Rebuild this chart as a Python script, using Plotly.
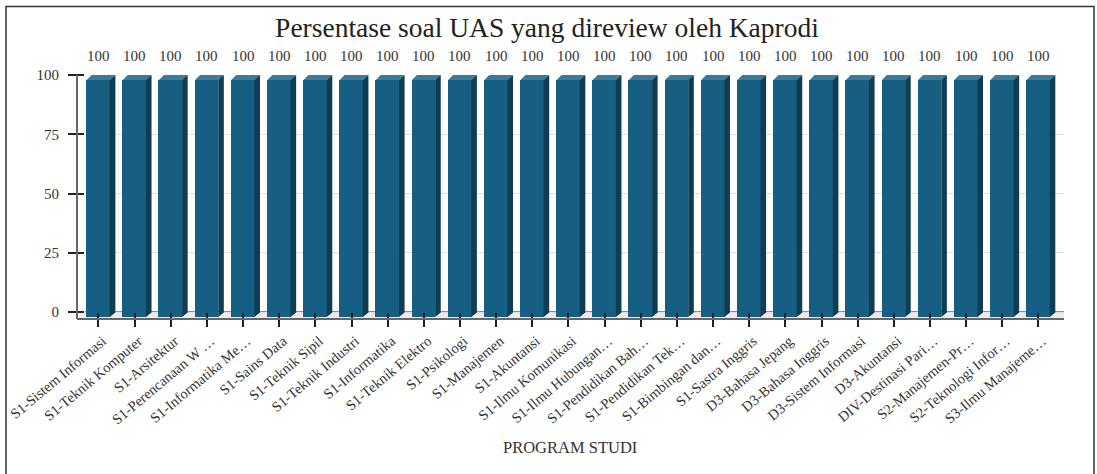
import plotly.graph_objects as go

categories = ["S1-Sistem Informasi", "S1-Teknik Komputer", "S1-Arsitektur", "S1-Perencanaan W …",
              "S1-Informatika Me…", "S1-Sains Data", "S1-Teknik Sipil", "S1-Teknik Industri",
              "S1-Informatika", "S1-Teknik Elektro", "S1-Psikologi", "S1-Manajemen", "S1-Akuntansi",
              "S1-Ilmu Komunikasi", "S1-Ilmu Hubungan…", "S1-Pendidikan Bah…", "S1-Pendidikan Tek…",
              "S1-Bimbingan dan…", "S1-Sastra Inggris", "D3-Bahasa Jepang", "D3-Bahasa Inggris",
              "D3-Sistem Informasi", "D3-Akuntansi", "DIV-Destinasi Pari…", "S2-Manajemen-Pr…",
              "S2-Teknologi Infor…", "S3-Ilmu Manajeme…"]
values = [100] * 27
y_ticks = [0, 25, 50, 75, 100]

W, H = 1097, 474
FONT = "Liberation Serif"
FRONT, SIDE, TOP = "#165f82", "#0e3d54", "#3b7a98"
px = lambda v: v / W          # horizontal pixel -> paper
py = lambda v: 1 - v / H      # vertical pixel -> paper

idx = list(range(len(categories)))
unit_x = 36.15                 # pixels per category
unit_y = 2.375                 # pixels per value unit
half = 11.9 / unit_x
dx, dy = 5 / unit_x, 4.5 / unit_y
seam_x, seam_y = 0.6 / unit_x, 0.6 / unit_y   # overlap that hides the pale seam between faces

x_left, x_right = 80.4, 1056.5
wall_l, wall_r = 85, 1064
top_px, floor_front, floor_back = 75, 319, 312

side_x, side_y, top_x, top_y = [], [], [], []
for i, v in zip(idx, values):
    side_x += [i + half - seam_x, i + half + dx, i + half + dx, i + half - seam_x, i + half - seam_x, None]
    side_y += [0, dy, v + dy, v, 0, None]
    top_x += [i - half, i + half, i + half + dx, i - half + dx, i - half, None]
    top_y += [v - seam_y, v - seam_y, v + dy, v + dy, v - seam_y, None]

fig = go.Figure()
# invisible trace that brings the wall axes into being
fig.add_trace(go.Scatter(x=[0], y=[0], xaxis="x", yaxis="y", mode="markers",
                         marker=dict(opacity=0), hoverinfo="skip", showlegend=False))
fig.add_trace(go.Bar(x=idx, y=values, width=2 * half, xaxis="x2", yaxis="y2",
                     marker=dict(color=FRONT, line=dict(width=0)), showlegend=False))
fig.add_trace(go.Scatter(x=side_x, y=side_y, xaxis="x2", yaxis="y2", mode="lines", fill="toself",
                         fillcolor=SIDE, line=dict(width=0), hoverinfo="skip", showlegend=False))
fig.add_trace(go.Scatter(x=top_x, y=top_y, xaxis="x2", yaxis="y2", mode="lines", fill="toself",
                         fillcolor=TOP, line=dict(width=0), hoverinfo="skip", showlegend=False))

annotations = [dict(x=i, y=v, xref="x2", yref="y2", text=str(v), showarrow=False, yshift=23.5,
                    font=dict(family=FONT, size=15, color="#333333"))
               for i, v in zip(idx, values)]
annotations.append(dict(x=px(570), y=py(447), xref="paper", yref="paper", yanchor="middle", text="PROGRAM STUDI",
                        showarrow=False, font=dict(family=FONT, size=16.5, color="#333333")))

line = dict(color="#666666", width=2)
shapes = [
    dict(type="path", xref="paper", yref="paper", layer="below", line=dict(width=0), fillcolor="#ebebeb",
         path=f"M {px(77)} {py(floor_front)} L {px(wall_l)} {py(floor_back)} L {px(wall_r)} {py(floor_back)} "
              f"L {px(wall_r)} {py(floor_front)} Z"),
    dict(type="line", xref="paper", yref="paper", x0=px(77), x1=px(wall_r), y0=py(floor_front), y1=py(floor_front), line=line),
    dict(type="line", xref="paper", yref="paper", x0=px(77), x1=px(77), y0=py(top_px), y1=py(floor_front), line=line),
    dict(type="line", xref="paper", yref="paper", x0=px(wall_l), x1=px(wall_r), y0=py(floor_back), y1=py(floor_back), layer="below", line=dict(color="#666666", width=1.5)),
    dict(type="path", xref="paper", yref="paper", line=dict(color="#333333", width=1.5),
         path=f"M {px(6)} 0 L {px(6)} {py(6.5)} L {px(1094)} {py(6.5)} L {px(1094)} 0"),
]

fig.update_layout(
    template=None,
    width=W, height=H, autosize=False, margin=dict(l=0, r=0, t=0, b=0, autoexpand=False),
    paper_bgcolor="white", plot_bgcolor="rgba(0,0,0,0)", showlegend=False, bargap=0,
    font=dict(family=FONT, color="#333333"),
    title=dict(text="Persentase soal UAS yang direview oleh Kaprodi", x=px(547), y=py(27),
               xanchor="center", yanchor="middle", xref="paper", yref="paper", automargin=False,
               font=dict(family=FONT, size=27.5, color="#222222")),
    annotations=annotations, shapes=shapes,
    xaxis2=dict(domain=[px(x_left), px(x_right)], range=[-0.5, 26.5], anchor="free", position=py(floor_back),
                tickmode="array", tickvals=idx, ticktext=categories, tickangle=-40, automargin=False,
                ticks="outside", ticklen=14, tickwidth=1.5, tickcolor="#222222", layer="above traces",
                showline=False, showgrid=False, zeroline=False, ticklabelshift=4,
                tickfont=dict(family=FONT, size=14.5, color="#333333")),
    xaxis=dict(domain=[px(wall_l), px(wall_r)], range=[0, 1], anchor="y", visible=False),
    yaxis=dict(domain=[py(floor_front), py(top_px)], range=[-(floor_front - floor_back) / unit_y, 100],
               anchor="x", tickmode="array", tickvals=y_ticks, ticks="outside", ticklen=16, tickwidth=1.5,
               tickcolor="#222222", showline=False, showgrid=True, gridcolor="#e0e0e0", gridwidth=1, zeroline=False,
               ticklabelstandoff=6, automargin=False, tickfont=dict(family=FONT, size=15, color="#333333")),
    yaxis2=dict(domain=[py(floor_front), py(top_px)],
                range=[-(floor_front - 317) / unit_y, (317 - top_px) / unit_y],
                anchor="x2", visible=False, automargin=False),
)

fig.write_html("out.html", config=dict(displayModeBar=False),
               post_script="document.body.style.margin='0';")
